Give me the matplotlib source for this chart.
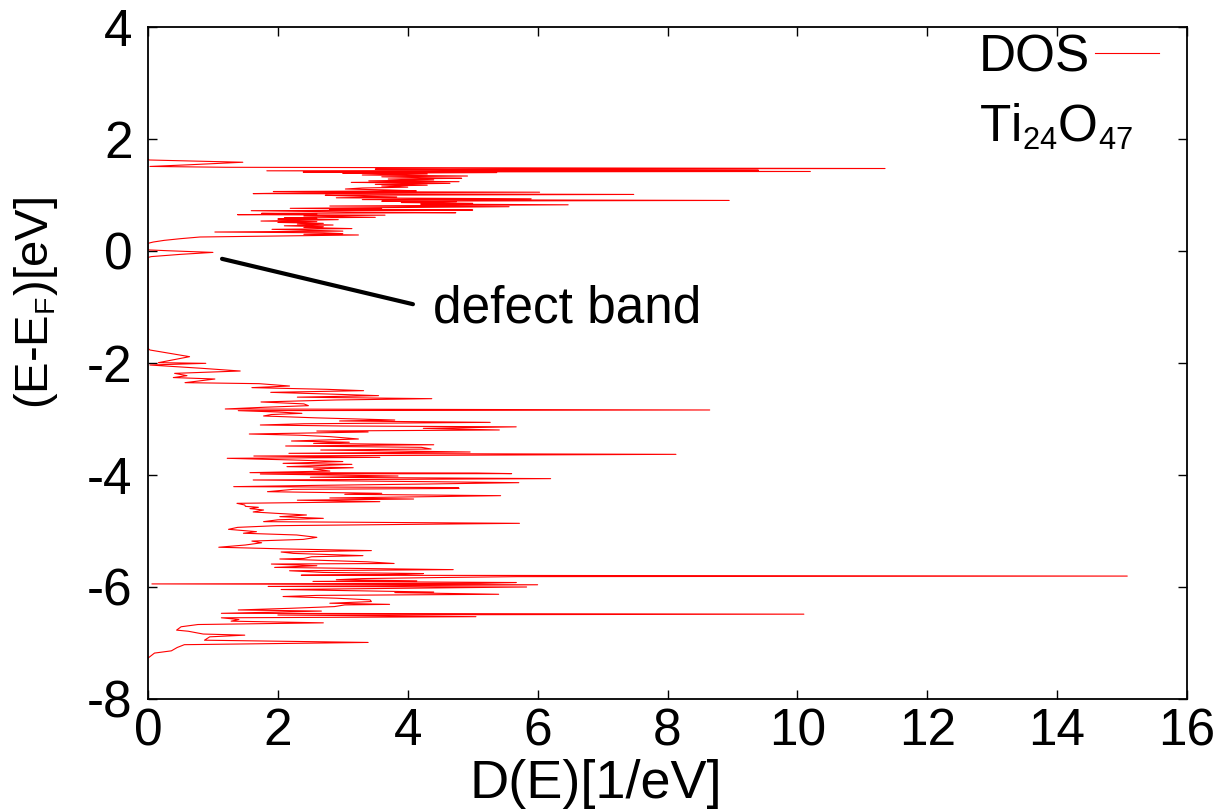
import matplotlib
matplotlib.use("Agg")
import matplotlib.pyplot as plt
try:
    import matplotlib._mathtext as _mt
    _mt.SHRINK_FACTOR = 0.6
except Exception:
    pass

plt.rcParams['font.family'] = ['Liberation Sans', 'DejaVu Sans']
plt.rcParams['mathtext.fontset'] = 'custom'
plt.rcParams['mathtext.rm'] = 'Liberation Sans'
plt.rcParams['mathtext.it'] = 'Liberation Sans:italic'
plt.rcParams['axes.unicode_minus'] = False

# Energy (E - E_F) in eV, descending
energy = [
    1.640, 1.625, 1.585, 1.540, 1.510, 1.495, 1.485, 1.473, 1.462, 1.450,
    1.441, 1.432, 1.420, 1.410, 1.400, 1.388, 1.375, 1.357, 1.339, 1.325,
    1.310, 1.298, 1.285, 1.270, 1.252, 1.238, 1.225, 1.208, 1.190, 1.175,
    1.160, 1.140, 1.125, 1.107, 1.090, 1.075, 1.062, 1.050, 1.038, 1.025,
    1.010, 0.995, 0.980, 0.965, 0.950, 0.932, 0.918, 0.903, 0.890, 0.880,
    0.865, 0.851, 0.838, 0.825, 0.815, 0.803, 0.791, 0.775, 0.762, 0.750,
    0.740, 0.732, 0.720, 0.705, 0.695, 0.684, 0.672, 0.660, 0.649, 0.640,
    0.625, 0.612, 0.601, 0.590, 0.582, 0.571, 0.560, 0.545, 0.535, 0.524,
    0.510, 0.494, 0.480, 0.464, 0.450, 0.434, 0.420, 0.400, 0.387, 0.370,
    0.355, 0.339, 0.325, 0.310, 0.298, 0.286, 0.250, 0.220, 0.190, 0.160,
    0.137,
    # defect band
    0.020, 0.005, -0.025, -0.060, -0.100, -0.115,
    # valence band
    -1.740, -1.768, -1.887, -1.994, -2.006, -2.036, -2.095, -2.143, -2.185, -2.226,
    -2.260, -2.286, -2.351, -2.369, -2.411, -2.440, -2.470, -2.494, -2.524, -2.555,
    -2.583, -2.610, -2.637, -2.660, -2.696, -2.730, -2.762, -2.790, -2.821, -2.839,
    -2.851, -2.875, -2.899, -2.920, -2.946, -2.980, -3.018, -3.035, -3.060, -3.085,
    -3.107, -3.125, -3.140, -3.167, -3.196, -3.215, -3.232, -3.268, -3.290, -3.315,
    -3.357, -3.393, -3.415, -3.435, -3.460, -3.482, -3.506, -3.536, -3.554, -3.589,
    -3.613, -3.631, -3.661, -3.685, -3.702, -3.732, -3.760, -3.792, -3.810, -3.851,
    -3.870, -3.893, -3.930, -3.958, -3.965, -3.975, -3.982, -4.018, -4.040, -4.065,
    -4.089, -4.119, -4.137, -4.161, -4.185, -4.208, -4.225, -4.240, -4.256, -4.298,
    -4.327, -4.345, -4.369, -4.387, -4.410, -4.429, -4.450, -4.476, -4.506, -4.536,
    -4.560, -4.577, -4.600, -4.625, -4.660, -4.685, -4.714, -4.744, -4.774, -4.800,
    -4.833, -4.863, -4.905, -4.935, -4.970, -5.012, -5.040, -5.071, -5.113, -5.150,
    -5.180, -5.210, -5.250, -5.290, -5.320, -5.350, -5.375, -5.400, -5.440, -5.460,
    -5.490, -5.500, -5.550, -5.580, -5.590, -5.620, -5.650, -5.690, -5.710, -5.740,
    -5.760, -5.775, -5.790, -5.805, -5.815, -5.830, -5.850, -5.870, -5.890, -5.900,
    -5.920, -5.935, -5.945, -5.960, -5.990, -6.000, -6.030, -6.045, -6.090, -6.100,
    -6.130, -6.150, -6.170, -6.200, -6.230, -6.260, -6.290, -6.310, -6.320, -6.350,
    -6.380, -6.410, -6.430, -6.470, -6.485, -6.500, -6.530, -6.550, -6.580, -6.610,
    -6.640, -6.670, -6.710, -6.770, -6.790, -6.840, -6.860, -6.890, -6.950, -6.990,
    -7.030, -7.080, -7.140, -7.180, -7.270,
]

# Density of states D(E) in 1/eV
dos = [
    0.00, 0.02, 1.46, 0.64, 0.03, 1.20, 5.40, 11.35, 3.50, 5.30,
    9.40, 1.83, 10.20, 2.39, 5.37, 3.00, 4.30, 3.30, 4.92, 3.60,
    4.20, 4.83, 3.70, 4.40, 3.40, 4.79, 3.13, 4.65, 3.50, 4.30,
    3.60, 4.00, 3.30, 3.04, 3.70, 4.13, 1.93, 6.03, 2.40, 1.62,
    7.48, 2.73, 3.20, 3.83, 2.90, 5.90, 3.30, 8.95, 3.60, 4.75,
    3.90, 5.00, 4.20, 6.47, 4.76, 2.80, 5.56, 3.70, 2.19, 3.60,
    2.80, 5.00, 1.59, 2.50, 3.20, 4.74, 1.75, 2.60, 1.38, 3.65,
    2.40, 3.00, 3.50, 2.10, 2.60, 2.00, 2.93, 2.20, 1.74, 2.60,
    2.00, 2.70, 2.30, 2.85, 2.10, 2.70, 2.40, 3.14, 1.91, 2.50,
    3.00, 1.03, 2.70, 3.00, 2.40, 3.24, 0.80, 0.50, 0.25, 0.08,
    0.00,
    0.00, 0.30, 1.00, 0.50, 0.05, 0.00,
    0.00, 0.03, 0.64, 0.16, 0.89, 0.03, 0.83, 1.42, 0.41, 0.60,
    0.39, 1.03, 0.57, 1.71, 2.18, 1.60, 2.75, 3.32, 1.89, 2.80,
    3.55, 2.30, 4.37, 2.90, 1.74, 2.40, 2.47, 1.80, 1.19, 8.65,
    1.39, 2.00, 2.37, 1.90, 1.78, 2.60, 3.80, 2.95, 5.27, 2.40,
    1.73, 3.00, 5.67, 4.24, 5.41, 2.60, 3.39, 1.56, 2.34, 2.80,
    3.24, 2.21, 3.10, 2.55, 4.40, 2.12, 4.21, 4.36, 2.66, 4.96,
    2.17, 8.13, 1.63, 3.57, 1.22, 2.24, 3.00, 2.08, 3.14, 2.14,
    3.16, 2.55, 2.80, 1.57, 5.06, 5.60, 1.73, 3.85, 2.50, 6.20,
    1.62, 4.30, 5.71, 4.29, 2.60, 1.32, 4.78, 4.79, 2.24, 1.84,
    3.60, 3.03, 5.43, 4.33, 2.80, 4.09, 2.30, 3.57, 1.37, 1.49,
    1.50, 1.70, 1.57, 1.78, 1.62, 1.98, 2.44, 2.03, 2.70, 2.00,
    1.78, 5.72, 1.98, 1.38, 1.24, 1.67, 1.47, 2.29, 2.60, 2.39,
    1.60, 1.75, 1.50, 1.09, 2.10, 3.44, 2.05, 2.24, 3.31, 2.52,
    2.40, 2.03, 3.37, 3.79, 1.90, 2.60, 1.95, 4.70, 2.18, 2.70,
    4.24, 3.90, 2.36, 15.08, 5.68, 4.55, 3.30, 2.90, 4.14, 2.54,
    5.67, 5.11, 0.06, 6.00, 1.85, 5.83, 3.37, 2.05, 4.40, 3.80,
    5.40, 2.60, 2.08, 2.90, 3.42, 3.44, 2.80, 3.72, 3.03, 2.87,
    2.20, 1.39, 2.67, 1.13, 10.10, 2.00, 5.05, 1.13, 1.40, 1.28,
    2.70, 0.77, 0.51, 0.44, 0.62, 0.85, 1.49, 0.95, 0.87, 3.39,
    0.56, 0.45, 0.36, 0.10, 0.00,
]

x_ticks = [0, 2, 4, 6, 8, 10, 12, 14, 16]
y_ticks = [-8, -6, -4, -2, 0, 2, 4]

W, H = 1225, 809
fig = plt.figure(figsize=(W / 100, H / 100), dpi=100)
ax = fig.add_axes([148 / W, (H - 699) / H, 1039 / W, 672 / H])

ax.plot(dos, energy, color='#ff0000', lw=0.8, label='DOS', zorder=2)

ax.set_xlim(0, 16)
ax.set_ylim(-8, 4)
ax.set_xticks(x_ticks)
ax.set_yticks(y_ticks)
ax.set_xticklabels([str(v) for v in x_ticks])
ax.set_yticklabels([str(v) for v in y_ticks])
ax.tick_params(direction='in', length=6.5, width=1.0, labelsize=37,
               top=True, right=True, colors='black')
ax.tick_params(axis='x', pad=6)
ax.tick_params(axis='y', pad=11)
for s in ax.spines.values():
    s.set_linewidth(1.3)
    s.set_color('black')
    s.set_zorder(3)

fig.text(596 / W, (H - 784) / H, 'D(E)[1/eV]', fontsize=39,
         ha='center', va='center')
fig.text(36 / W, (H - 303) / H, r'(E-E$_{\mathrm{F}}$)[eV]', fontsize=34,
         ha='center', va='center', rotation=90)

leg = ax.legend(loc='upper right', bbox_to_anchor=((1159 - 148) / 1039, 0.991),
                frameon=False, fontsize=37, markerfirst=False,
                handlelength=1.25, handletextpad=0.1, borderpad=0,
                borderaxespad=0)

ax.text((979 - 148) / 1039, (699 - 141.7) / 672, r'Ti$_{24}$O$_{47}$',
        transform=ax.transAxes, fontsize=37, ha='left', va='baseline')

ax.annotate('', xy=(1.14, -0.14), xytext=(4.08, -0.95),
            arrowprops=dict(arrowstyle='-', color='black', lw=3.0,
                            shrinkA=0, shrinkB=0))
ax.text(4.39, -1.28, 'defect band', fontsize=37, ha='left', va='baseline')

fig.savefig('out.png', dpi=100)
